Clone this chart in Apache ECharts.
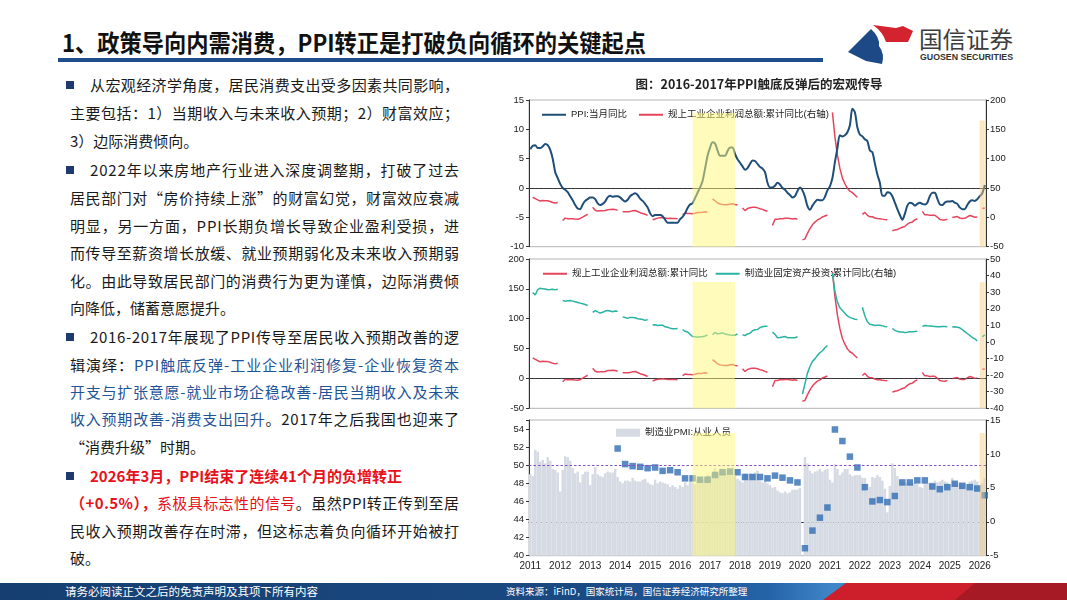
<!DOCTYPE html>
<html><head><meta charset="utf-8">
<script src="https://cdn.jsdelivr.net/npm/echarts@6/dist/echarts.min.js"></script>
<style>
html,body{margin:0;padding:0;width:1067px;height:600px;overflow:hidden;background:#fff;font-family:"Noto Sans CJK SC","Noto Sans",sans-serif;}
#page{position:relative;width:1067px;height:600px;}
#title{position:absolute;left:62px;top:27px;font-size:24px;line-height:30px;font-weight:bold;color:#111;white-space:nowrap;transform-origin:0 0;}
#rule{position:absolute;left:58px;top:58px;width:765px;height:4px;background:#1d4f8c;}
#logoTxt{position:absolute;left:919px;top:23px;font-size:23px;line-height:30px;color:#3c3c3c;white-space:nowrap;transform-origin:0 0;}
#logoEn{position:absolute;left:920px;top:52px;font-size:9px;line-height:11px;font-weight:bold;color:#333;white-space:nowrap;font-family:"Liberation Sans",Arial,sans-serif;transform-origin:0 0;}
.ln{position:absolute;font-size:15px;line-height:20px;height:20px;color:#1a1a1a;white-space:nowrap;}
.bl{position:absolute;left:66px;width:8px;height:8px;background:#1f3a6e;}
.blue{color:#1f5597;}
.red{color:#e8101a;}
.b{font-weight:bold;}
#footer{position:absolute;left:0;top:583px;width:1067px;height:17px;background:linear-gradient(90deg,#163e70 0%,#1a4a82 55%,#2563a8 72%,#3f86c8 78%);}
#ftL{position:absolute;left:65px;top:583px;font-size:11.5px;line-height:17px;color:#fff;white-space:nowrap;}
#ftR{position:absolute;left:506px;top:583px;font-size:9.5px;line-height:17px;color:#fff;white-space:nowrap;}
#chart{position:absolute;left:0;top:0;width:1067px;height:600px;}
</style></head><body>
<div id="page">
<div id="title">1、政策导向内需消费，PPI转正是打破负向循环的关键起点</div>
<div id="rule"></div>
<svg style="position:absolute;left:0;top:0" width="1067" height="600">
  <path d="M848,52 L871,29 Q880,37 879,46 Q885,54 882,64 L866,61 Z" fill="#1d4a86"/>
  <path d="M873,25 L896,28 L903,26 L913,31 L908,42 L886,42 Q883,32 873,25 Z" fill="#d2232e"/>
</svg>
<div id="logoTxt">国信证券</div>
<div id="logoEn">GUOSEN SECURITIES</div>

<div class="bl" style="top:81px"></div>
<div class="ln j" style="left:90px;top:75px">从宏观经济学角度，居民消费支出受多因素共同影响，</div>
<div class="ln j" style="left:70px;top:103px">主要包括：1）当期收入与未来收入预期；2）财富效应；</div>
<div class="ln" style="left:70px;top:131px">3）边际消费倾向。</div>
<div class="bl" style="top:166px"></div>
<div class="ln j" style="left:90px;top:160px">2022年以来房地产行业进入深度调整期，打破了过去</div>
<div class="ln j" style="left:70px;top:188px">居民部门对“房价持续上涨”的财富幻觉，财富效应衰减</div>
<div class="ln j" style="left:70px;top:216px">明显，另一方面，PPI长期负增长导致企业盈利受损，进</div>
<div class="ln j" style="left:70px;top:243px">而传导至薪资增长放缓、就业预期弱化及未来收入预期弱</div>
<div class="ln j" style="left:70px;top:271px">化。由此导致居民部门的消费行为更为谨慎，边际消费倾</div>
<div class="ln" style="left:70px;top:298px">向降低，储蓄意愿提升。</div>
<div class="bl" style="top:333px"></div>
<div class="ln j" style="left:90px;top:327px">2016-2017年展现了PPI传导至居民收入预期改善的逻</div>
<div class="ln j" style="left:70px;top:355px">辑演绎：<span class="blue">PPI触底反弹-工业企业利润修复-企业恢复资本</span></div>
<div class="ln j" style="left:70px;top:382px"><span class="blue">开支与扩张意愿-就业市场企稳改善-居民当期收入及未来</span></div>
<div class="ln j" style="left:70px;top:409px"><span class="blue">收入预期改善-消费支出回升</span>。2017年之后我国也迎来了</div>
<div class="ln" style="left:70px;top:437px">“消费升级”时期。</div>
<div class="bl" style="top:472px"></div>
<div class="ln" style="left:90px;top:466px"><span class="red b">2026年3月，PPI结束了连续41个月的负增转正</span></div>
<div class="ln j" style="left:70px;top:493px"><span class="red"><span class="b">（+0.5%），</span>系极具标志性的信号</span>。虽然PPI转正传到至居</div>
<div class="ln j" style="left:70px;top:521px">民收入预期改善存在时滞，但这标志着负向循环开始被打</div>
<div class="ln" style="left:70px;top:548px">破。</div>

<div id="footer"></div>
<svg style="position:absolute;left:0;top:0;pointer-events:none" width="1067" height="600">
  <path d="M823,600 L846,583 L1067,583 L1067,600 Z" fill="#cc1f2b"/>
  <path d="M955,600 L975,583 L1067,583 L1067,600 Z" fill="#a51a24"/>
</svg>
<div id="ftL">请务必阅读正文之后的免责声明及其项下所有内容</div>
<div id="ftR">资料来源：iFinD，国家统计局，国信证券经济研究所整理</div>
<div id="chart"></div>
</div>

<script>
// ---------- DATA ----------
const months = [];
for (let y = 2011; y <= 2026; y++) {
  for (let m = 1; m <= 12; m++) {
    if (y === 2026 && m > 3) break;
    months.push(y + '-' + String(m).padStart(2, '0'));
  }
}

// PPI: 当月同比 (%), 2011-01 .. 2026-03
const ppi = [
  6.6,7.2,7.3,6.8,6.8,7.1,7.5,7.3,6.5,5.0,2.7,1.7,
  0.7,0.0,-0.3,-0.7,-1.4,-2.1,-2.9,-3.5,-3.6,-2.8,-2.2,-1.9,
  -1.6,-1.6,-1.9,-2.6,-2.9,-2.7,-2.3,-1.6,-1.3,-1.5,-1.4,-1.4,
  -1.6,-2.0,-2.3,-2.0,-1.4,-1.1,-0.9,-1.2,-1.8,-2.2,-2.7,-3.3,
  -4.3,-4.8,-4.6,-4.6,-4.6,-4.8,-5.4,-5.9,-5.9,-5.9,-5.9,-5.9,
  -5.3,-4.9,-4.3,-3.4,-2.8,-2.6,-1.7,-0.8,0.1,1.2,3.3,5.5,
  6.9,7.8,7.6,6.4,5.5,5.5,5.5,6.3,6.9,6.9,5.8,4.9,
  4.3,3.7,3.1,3.4,4.1,4.7,4.6,4.1,3.6,3.3,2.7,0.9,
  0.1,0.1,0.4,0.9,0.6,0.0,-0.3,-0.8,-1.2,-1.6,-1.4,-0.5,
  0.1,-0.4,-1.5,-3.1,-3.7,-3.0,-2.4,-2.0,-2.1,-2.1,-1.5,-0.4,
  0.3,1.7,4.4,6.8,9.0,8.8,9.0,9.5,10.7,13.5,12.9,10.3,
  9.1,8.8,8.3,8.0,6.4,6.1,4.2,2.3,0.9,-1.3,-1.3,-0.7,
  -0.8,-1.4,-2.5,-3.6,-4.6,-5.4,-4.4,-3.0,-2.5,-2.6,-3.0,-2.7,
  -2.5,-2.7,-2.8,-2.5,-1.4,-0.8,-0.8,-1.8,-2.8,-2.9,-2.5,-2.3,
  -2.3,-2.2,-2.5,-2.7,-3.3,-3.6,-3.6,-2.9,-2.3,-2.1,-2.2,-1.9,
  -1.4,-0.9,0.5
];

// 规上工业企业利润总额: 累计同比 (%), January not published
const profit = [
  null,34.3,32.0,29.7,27.9,28.7,28.3,28.2,27.0,25.3,24.4,25.4,
  null,-5.5,-1.3,-2.2,-2.4,-2.2,-2.7,-3.1,-1.8,0.5,3.0,5.3,
  null,17.2,12.1,10.9,11.1,11.1,11.6,13.1,13.5,13.7,13.2,12.2,
  null,9.4,9.6,9.6,9.8,11.4,11.6,10.0,8.0,6.7,5.3,3.3,
  null,-4.2,-2.7,-1.3,-0.8,-0.7,-1.0,-1.9,-1.7,-1.9,-1.9,-2.3,
  null,4.8,7.4,6.5,6.4,6.2,6.9,8.4,8.4,8.6,9.4,8.5,
  null,31.5,28.3,24.4,22.7,22.0,21.6,21.6,22.8,23.3,21.9,21.0,
  null,16.1,11.6,15.0,16.5,17.2,17.1,16.2,14.7,13.6,11.8,10.3,
  null,-14.0,-3.3,-3.4,-2.3,-2.4,-1.7,-1.7,-2.1,-2.9,-2.1,-3.3,
  null,-38.3,-36.7,-27.4,-19.3,-12.8,-8.1,-4.4,-2.4,0.7,2.4,4.1,
  null,178.9,137.3,106.0,83.4,66.9,57.3,49.5,44.7,42.2,38.0,34.3,
  null,5.0,8.5,3.5,1.0,1.0,-1.1,-2.1,-2.3,-3.0,-3.6,-4.0,
  null,-22.9,-21.4,-20.6,-18.8,-16.8,-15.5,-11.7,-9.0,-7.8,-4.4,-2.3,
  null,10.2,4.3,4.3,3.4,3.5,3.6,0.5,-3.5,-4.3,-4.7,-3.3,
  null,-0.3,0.8,1.4,-1.1,-1.8,-1.7,0.9,3.2,1.9,0.1,0.6,
  null,15.2,15.8
];

// 制造业固定资产投资: 累计同比 (%)
const mfgFai = [
  null,29.8,28.3,31.5,32.4,32.0,31.9,31.5,31.6,31.8,31.4,31.8,
  null,25.0,24.6,24.8,25.0,24.6,24.2,23.8,23.4,23.0,22.6,22.0,
  null,17.8,18.9,18.1,17.4,17.9,18.6,19.0,18.6,18.2,18.6,18.5,
  null,15.1,14.7,14.2,14.8,14.8,14.6,14.0,13.8,13.5,13.0,13.5,
  null,10.2,10.4,9.9,10.0,10.1,9.1,8.9,8.3,8.0,8.0,8.1,
  null,7.5,6.4,6.0,4.6,3.3,3.1,2.8,3.1,3.1,3.6,4.2,
  null,4.3,5.8,4.9,5.1,5.5,4.8,4.5,4.2,4.1,4.1,4.8,
  null,4.3,3.8,4.8,5.2,6.8,7.3,7.5,8.7,9.1,9.5,9.5,
  null,5.9,4.6,2.5,2.7,3.0,3.3,2.6,2.5,2.6,2.5,3.1,
  null,-31.5,-25.2,-18.8,-14.8,-11.7,-10.2,-8.1,-6.5,-5.3,-3.5,-2.2,
  null,41.5,30.5,24.0,20.6,19.0,17.3,15.7,14.8,14.2,13.7,13.5,
  null,20.9,15.6,12.2,10.6,10.4,9.9,10.0,10.1,9.7,9.3,9.1,
  null,8.1,7.0,6.4,6.0,6.0,5.7,5.9,6.2,6.2,6.3,6.5,
  null,9.4,9.9,9.7,9.6,9.5,9.3,9.1,9.2,9.3,9.3,9.2,
  null,9.0,9.1,8.8,8.5,7.5,6.2,5.1,4.0,2.7,1.9,0.6,
  null,3.1,4.3
];

// 制造业PMI: 从业人员 (2020-02 below axis range, not drawn)
const pmiEmp = [
  49.0,48.8,51.7,51.5,50.4,50.6,50.2,50.9,50.5,49.6,49.5,49.2,
  47.1,49.5,51.0,50.9,50.5,49.7,49.1,49.3,48.1,49.0,49.3,49.3,
  47.8,49.0,49.8,49.0,48.8,48.7,49.1,49.3,49.2,49.2,49.6,48.7,
  48.2,48.0,48.3,48.3,48.2,48.6,48.3,48.2,48.2,48.4,48.5,48.1,
  47.9,47.8,48.4,48.0,48.2,48.1,48.0,47.9,47.6,47.8,47.6,47.4,
  47.8,47.6,48.1,47.8,48.2,48.1,47.9,48.4,48.6,48.4,48.6,48.9,
  48.8,49.0,49.7,49.2,49.4,49.0,49.2,49.1,49.0,49.0,48.8,48.5,
  48.3,48.1,49.1,49.0,49.1,49.0,49.2,49.4,48.3,48.1,48.3,48.0,
  47.8,47.5,47.6,47.2,47.0,46.9,47.1,46.9,47.0,47.3,47.3,47.3,
  47.5,null,50.9,50.2,49.4,49.1,49.3,49.4,49.6,49.3,49.5,49.6,
  48.4,48.1,50.1,49.6,48.9,49.2,49.6,49.6,49.0,48.8,48.9,48.9,
  48.9,48.6,48.6,47.2,47.6,48.7,48.6,48.9,48.7,48.3,47.4,44.8,
  47.7,50.2,49.7,48.8,48.4,48.2,48.1,48.0,48.1,48.0,48.1,47.9,
  47.6,47.5,48.1,48.0,48.1,48.1,48.3,48.1,48.2,48.4,48.2,48.1,
  47.9,48.6,48.2,47.9,48.1,47.9,48.0,47.9,48.2,48.3,48.4,48.2,
  47.8,48.0,48.6
];

// quarterly series (right axis, squares), quarter ends 2013-12 .. 2026-03
const incomeStart = '2013-12';
const incomeQ = [
  10.8,8.5,8.2,8.1,7.9,8.0,7.5,7.6,7.3,6.4,6.4,6.2,6.2,6.9,7.3,7.4,7.3,6.6,
  6.6,6.6,6.4,6.8,6.5,6.1,5.8,-3.9,-1.3,0.6,2.1,13.6,11.9,9.6,8.0,5.1,3.0,3.2,
  2.9,3.8,5.8,5.8,6.1,6.1,5.2,4.8,5.1,5.6,5.3,5.1,4.9,3.9
];

// highlighted periods
const bandMain = ['2016-06', '2017-11'];
const bandLast = ['2026-01', '2026-03'];

const panelY = [-10, 15, 5, -50, 200, 50, -50, 200, 50, -40, 50, 10, 40, 55, 2, -5, 15, 5];

// ---------- TEXT FITTING ----------
function fitX(id, w) {
  const el = document.getElementById(id);
  const nat = el.getBoundingClientRect().width;
  el.style.transform = 'scaleX(' + (w / nat) + ')';
}
fitX('title', 584);
fitX('logoTxt', 94);
fitX('logoEn', 93);
document.querySelectorAll('.ln.j').forEach(el => {
  const left = parseFloat(el.style.left);
  const target = 459 - left;
  const nat = el.getBoundingClientRect().width;
  const n = el.textContent.length;
  el.style.letterSpacing = ((target - nat) / (n - 1)) + 'px';
});

// ---------- CHART ----------
const chart = echarts.init(document.getElementById('chart'));
const FONT = '"Liberation Sans","Noto Sans CJK SC",sans-serif';
const axColor = '#333';

function xax(gi, showLabel) {
  return {
    type: 'category', gridIndex: gi, data: months, boundaryGap: true,
    axisLine: {show: true, lineStyle: {color: axColor, width: 1}},
    axisTick: {show: false},
    axisLabel: showLabel ? {
      show: true, fontSize: 10, color: '#222', margin: 6, fontFamily: FONT,
      interval: (i, v) => v.endsWith('-01'),
      formatter: v => v.slice(0, 4)
    } : {show: false},
    splitLine: {show: false}
  };
}
function yax(gi, pos, k, fmt) {
  const o = {
    type: 'value', gridIndex: gi, position: pos,
    min: panelY[k], max: panelY[k + 1], interval: panelY[k + 2],
    axisLine: {show: true, lineStyle: {color: axColor, width: 1}},
    axisTick: {show: true, length: 3, inside: false, lineStyle: {color: axColor}},
    axisLabel: {fontSize: 9.5, color: '#222', margin: pos === 'left' ? 5 : 4, fontFamily: FONT},
    splitLine: {show: false}
  };
  if (fmt) o.axisLabel.formatter = fmt;
  return o;
}
const yellow = 'rgba(255,248,120,0.5)';
const orange = 'rgba(246,203,120,0.45)';
function bandSeries(xi, yi, yMin, topMain, topLast) {
  return {
    type: 'line', xAxisIndex: xi, yAxisIndex: yi, data: months.map(() => null),
    silent: true, z: 10, symbol: 'none',
    markArea: {
      silent: true, z: 10,
      data: [
        [{xAxis: bandMain[0], yAxis: yMin, itemStyle: {color: yellow}}, {xAxis: bandMain[1], yAxis: topMain}],
        [{xAxis: bandLast[0], yAxis: yMin, itemStyle: {color: orange}}, {xAxis: bandLast[1], yAxis: topLast}]
      ]
    }
  };
}
const zeroLine = (val, color, w) => ({
  silent: true, symbol: 'none', label: {show: false},
  lineStyle: {color: color, type: [2.5, 2], width: w, opacity: 1},
  data: [{yAxis: val}]
});
const RED = '#e5455c', BLUE = '#1f4e79', TEAL = '#2ab3a3';

const option = {
  animation: false,
  textStyle: {fontFamily: FONT},
  title: {
    text: '图：2016-2017年PPI触底反弹后的宏观传导',
    left: 754, top: 73, textAlign: 'center',
    textStyle: {fontSize: 12.5, fontWeight: 'bold', color: '#222', fontFamily: '"Noto Sans CJK SC",sans-serif'}
  },
  grid: [
    {left: 529, top: 100, width: 457, height: 146.7, show: true, borderColor: '#b5b5b5', borderWidth: 1, outerBoundsMode: 'none'},
    {left: 529, top: 259, width: 457, height: 149.3, show: true, borderColor: '#b5b5b5', borderWidth: 1, outerBoundsMode: 'none'},
    {left: 529, top: 420, width: 457, height: 135.7, show: true, borderColor: '#b5b5b5', borderWidth: 1, outerBoundsMode: 'none'}
  ],
  legend: [
    {left: 537, top: 105, itemGap: 12, itemWidth: 24, itemHeight: 2, icon: 'rect',
     textStyle: {fontSize: 9.5, color: '#222'}, data: ['PPI:当月同比', '规上工业企业利润总额:累计同比(右轴)']},
    {left: 538, top: 264, itemGap: 8, itemWidth: 24, itemHeight: 2, icon: 'rect',
     textStyle: {fontSize: 9.5, color: '#222'}, data: ['规上工业企业利润总额:累计同比', '制造业固定资产投资:累计同比(右轴)']},
    {left: 611, top: 423, itemWidth: 24, itemHeight: 8, icon: 'rect',
     textStyle: {fontSize: 9.5, color: '#222'}, data: ['制造业PMI:从业人员']}
  ],
  xAxis: [xax(0, false), xax(1, false), xax(2, true)],
  yAxis: [
    yax(0, 'left', 0), yax(0, 'right', 3),
    yax(1, 'left', 6), yax(1, 'right', 9),
    yax(2, 'left', 12, v => (v > 54.5 ? '' : v)), yax(2, 'right', 15)
  ],
  series: [
    {name: 'PPI:当月同比', type: 'line', xAxisIndex: 0, yAxisIndex: 0, data: ppi,
     symbol: 'none', smooth: 0.3, lineStyle: {color: BLUE, width: 2}, itemStyle: {color: BLUE}, z: 3,
     markLine: zeroLine(0, '#444', 0.7)},
    {name: '规上工业企业利润总额:累计同比(右轴)', type: 'line', xAxisIndex: 0, yAxisIndex: 1, data: profit,
     symbol: 'none', connectNulls: false, lineStyle: {color: RED, width: 1.5}, itemStyle: {color: RED}, z: 2},
    bandSeries(0, 0, -10, 12.8, 11.5),

    {name: '规上工业企业利润总额:累计同比', type: 'line', xAxisIndex: 1, yAxisIndex: 2, data: profit,
     symbol: 'none', connectNulls: false, lineStyle: {color: RED, width: 1.5}, itemStyle: {color: RED}, z: 3,
     markLine: zeroLine(0, '#444', 0.7)},
    {name: '制造业固定资产投资:累计同比(右轴)', type: 'line', xAxisIndex: 1, yAxisIndex: 3, data: mfgFai,
     symbol: 'none', connectNulls: false, lineStyle: {color: TEAL, width: 1.5}, itemStyle: {color: TEAL}, z: 3},
    bandSeries(1, 2, -50, 161.5, 161.5),

    {name: '制造业PMI:从业人员', type: 'bar', xAxisIndex: 2, yAxisIndex: 4, data: pmiEmp,
     barCategoryGap: '0%', itemStyle: {color: '#d5dae3'}, z: 2,
     markLine: zeroLine(50, '#8a4fc0', 1)},
    {name: '人均可支配收入', type: 'scatter', xAxisIndex: 2, yAxisIndex: 5,
     data: incomeQ.map((v, i) => [months[months.indexOf(incomeStart) + 3 * i], v]),
     symbol: 'rect', symbolSize: 6.5, itemStyle: {color: '#2f6db5'}, z: 4},
    bandSeries(2, 4, 40, 53.55, 53.55)
  ]
};
chart.setOption(option);
</script>
</body></html>
